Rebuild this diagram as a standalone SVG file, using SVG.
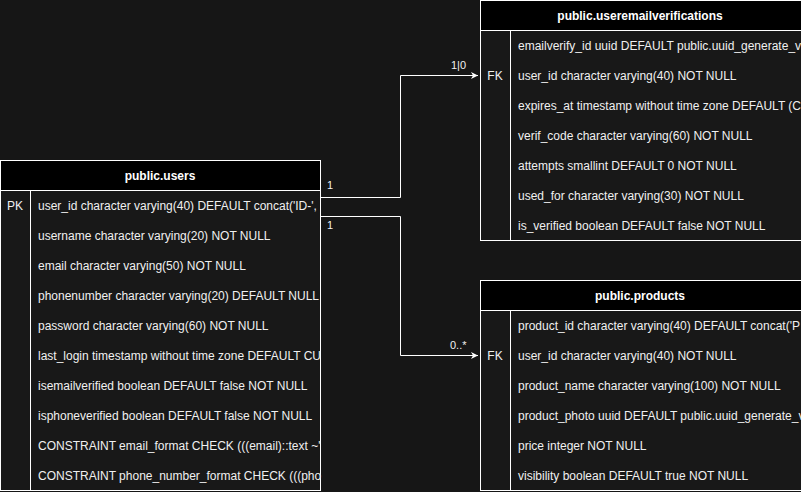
<svg xmlns="http://www.w3.org/2000/svg" width="801" height="492" viewBox="0 0 801 492">
<defs>
<style>
.t{font-family:"Liberation Sans",Arial,Helvetica,sans-serif;font-size:12px;fill:#f0f0f0}
.h{font-family:"Liberation Sans",Arial,Helvetica,sans-serif;font-size:12px;font-weight:bold;fill:#ffffff;text-anchor:middle}
.k{text-anchor:middle}
.box{fill:#181818;stroke:#ffffff;stroke-width:1}
.hd{fill:#000000;stroke:#ffffff;stroke-width:1}
.ln{stroke:#ffffff;stroke-width:1;fill:none}
.c{fill:none;stroke:#ffffff;stroke-width:1}
.lbl{font-family:"Liberation Sans",Arial,Helvetica,sans-serif;font-size:11px;fill:#f0f0f0}
</style>
<marker id="arr" markerWidth="8" markerHeight="8" refX="7" refY="4" orient="auto" markerUnits="userSpaceOnUse">
<path d="M0,0.5 L7,4 L0,7.5 L2,4 Z" fill="#ffffff"/>
</marker>
</defs>
<rect width="801" height="492" fill="#161616"/>

<g id="connectors">
<path class="c" d="M320.5,197.5 H400.5 V75.5 H478" marker-end="url(#arr)"/>
<path class="c" d="M320.5,216.5 H400.5 V355.5 H478" marker-end="url(#arr)"/>
<text class="lbl" x="327" y="189">1</text>
<text class="lbl" x="451" y="69">1|0</text>
<text class="lbl" x="327" y="229">1</text>
<text class="lbl" x="450" y="349">0..*</text>
</g>

<g id="users">
<rect class="box" x="0.5" y="160.5" width="320" height="330"/>
<rect class="hd" x="0.5" y="160.5" width="320" height="30"/>
<line class="ln" x1="30.5" y1="190.5" x2="30.5" y2="490.5"/>
<text class="h" x="160" y="180">public.users</text>
<text class="t k" x="15" y="210">PK</text>
<text class="t" x="38" y="210">user_id character varying(40) DEFAULT concat('ID-',</text>
<text class="t" x="38" y="240">username character varying(20) NOT NULL</text>
<text class="t" x="38" y="270">email character varying(50) NOT NULL</text>
<text class="t" x="38" y="300">phonenumber character varying(20) DEFAULT NULL</text>
<text class="t" x="38" y="330">password character varying(60) NOT NULL</text>
<text class="t" x="38" y="360">last_login timestamp without time zone DEFAULT CU</text>
<text class="t" x="38" y="390">isemailverified boolean DEFAULT false NOT NULL</text>
<text class="t" x="38" y="420">isphoneverified boolean DEFAULT false NOT NULL</text>
<text class="t" x="38" y="450">CONSTRAINT email_format CHECK (((email)::text ~'</text>
<text class="t" x="38" y="480">CONSTRAINT phone_number_format CHECK (((pho</text>
</g>

<g id="useremailverifications">
<rect class="box" x="480.5" y="0.5" width="330" height="240"/>
<rect class="hd" x="480.5" y="0.5" width="330" height="30"/>
<line class="ln" x1="510.5" y1="30.5" x2="510.5" y2="240.5"/>
<text class="h" x="640" y="20">public.useremailverifications</text>
<text class="t" x="518" y="50">emailverify_id uuid DEFAULT public.uuid_generate_v</text>
<text class="t k" x="495" y="80">FK</text>
<text class="t" x="518" y="80">user_id character varying(40) NOT NULL</text>
<text class="t" x="518" y="110">expires_at timestamp without time zone DEFAULT (C</text>
<text class="t" x="518" y="140">verif_code character varying(60) NOT NULL</text>
<text class="t" x="518" y="170">attempts smallint DEFAULT 0 NOT NULL</text>
<text class="t" x="518" y="200">used_for character varying(30) NOT NULL</text>
<text class="t" x="518" y="230">is_verified boolean DEFAULT false NOT NULL</text>
</g>

<g id="products">
<rect class="box" x="480.5" y="280.5" width="330" height="210"/>
<rect class="hd" x="480.5" y="280.5" width="330" height="30"/>
<line class="ln" x1="510.5" y1="310.5" x2="510.5" y2="490.5"/>
<text class="h" x="640" y="300">public.products</text>
<text class="t" x="518" y="330">product_id character varying(40) DEFAULT concat('P</text>
<text class="t k" x="495" y="360">FK</text>
<text class="t" x="518" y="360">user_id character varying(40) NOT NULL</text>
<text class="t" x="518" y="390">product_name character varying(100) NOT NULL</text>
<text class="t" x="518" y="420">product_photo uuid DEFAULT public.uuid_generate_v</text>
<text class="t" x="518" y="450">price integer NOT NULL</text>
<text class="t" x="518" y="480">visibility boolean DEFAULT true NOT NULL</text>
</g>
</svg>
